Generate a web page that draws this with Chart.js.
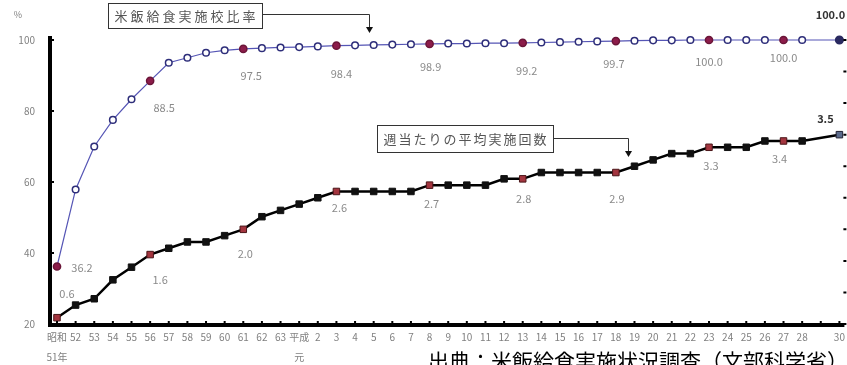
<!DOCTYPE html>
<html>
<head>
<meta charset="utf-8">
<script src="https://cdn.jsdelivr.net/npm/chart.js@4/dist/chart.umd.min.js"></script>
<style>
  html, body { margin: 0; padding: 0; background: #fff; }
  #wrap { width: 847px; height: 365px; position: relative; }
</style>
</head>
<body>
<div id="wrap"><canvas id="chart-rice"></canvas></div>
<script>
// 年度（昭和51年〜平成30年、平成29年はデータなし）
const yearLabels = [
    ['昭和', '51年'], '52', '53', '54', '55', '56', '57', '58', '59', '60', '61', '62', '63',
    ['平成', '元'], '2', '3', '4', '5', '6', '7', '8', '9', '10', '11', '12', '13', '14', '15',
    '16', '17', '18', '19', '20', '21', '22', '23', '24', '25', '26', '27', '28', '', '30'
];

// 米飯給食実施校比率 (%)
const riceRate = [
    36.2, 57.9, 70.0, 77.5, 83.3, 88.5, 93.6, 95.0, 96.4, 97.1, 97.5, 97.7, 97.9,
    98.0, 98.2, 98.4, 98.5, 98.6, 98.7, 98.8, 98.9, 99.0, 99.0, 99.1, 99.1, 99.2, 99.3, 99.4,
    99.5, 99.6, 99.7, 99.8, 99.9, 99.9, 100.0, 100.0, 100.0, 100.0, 100.0, 100.0, 100.0, null, 100.0
];

// 週当たりの平均実施回数 (回)
const weeklyTimes = [
    0.6, 0.8, 0.9, 1.2, 1.4, 1.6, 1.7, 1.8, 1.8, 1.9, 2.0, 2.2, 2.3,
    2.4, 2.5, 2.6, 2.6, 2.6, 2.6, 2.6, 2.7, 2.7, 2.7, 2.7, 2.8, 2.8, 2.9, 2.9,
    2.9, 2.9, 2.9, 3.0, 3.1, 3.2, 3.2, 3.3, 3.3, 3.3, 3.4, 3.4, 3.4, null, 3.5
];

// points that carry a value label
const markedYears = [0, 5, 10, 15, 20, 25, 30, 35, 39];
const lastYear = 42;

const FONT = "'Noto Sans CJK JP', 'Noto Sans', sans-serif";
const GREY = '#808080';

// label offsets from each marked point: [dataset, index, dx, dy, strong]
const labelSpots = [
    [0, 0, 25, 1], [0, 5, 14, 27], [0, 10, 8, 27], [0, 15, 5, 28], [0, 20, 1, 23],
    [0, 25, 4, 28], [0, 30, -2, 23], [0, 35, 0, 22], [0, 39, 0, 18], [0, 42, -9, -25, true],
    [1, 0, 10, -24], [1, 5, 10, 25], [1, 10, 2, 24], [1, 15, 3, 16], [1, 20, 2, 19],
    [1, 25, 1, 20], [1, 30, 1, 26], [1, 35, 2, 19], [1, 39, -4, 18], [1, 42, -14, -16, true]
];

function toPoints(values) {
    return values.map((v, i) => ({ x: i, y: v }));
}

function styleByIndex(normal, marked, last) {
    return yearLabels.map((_, i) => i === lastYear ? last : (markedYears.includes(i) ? marked : normal));
}

const valueLabels = {
    id: 'valueLabels',
    afterDatasetsDraw(chart) {
        const ctx = chart.ctx;
        ctx.save();
        ctx.textAlign = 'center';
        ctx.textBaseline = 'middle';
        labelSpots.forEach(([ds, i, dx, dy, strong]) => {
            const pt = chart.getDatasetMeta(ds).data[i];
            const val = chart.data.datasets[ds].data[i].y;
            ctx.font = (strong ? 'bold ' : '') + '11px ' + FONT;
            ctx.fillStyle = strong ? '#333' : '#8a8a8a';
            ctx.fillText(val.toFixed(1), pt.x + dx, pt.y + dy);
        });
        ctx.restore();
    }
};

// thick axis lines plus small tick marks on the inner side of the axes
const axisLines = {
    id: 'axisLines',
    afterDraw(chart) {
        const { ctx, chartArea, scales } = chart;
        const bottom = scales.y.getPixelForValue(20);
        ctx.save();
        ctx.fillStyle = '#000';
        ctx.fillRect(chartArea.left - 2, chartArea.top - 4, 4, bottom - chartArea.top + 6);
        ctx.fillRect(chartArea.left - 2, bottom - 1, chartArea.right - chartArea.left + 5, 4);

        ctx.strokeStyle = '#000';
        ctx.lineWidth = 2;
        ctx.beginPath();
        scales.x.ticks.forEach(t => {
            const px = scales.x.getPixelForValue(t.value);
            ctx.moveTo(px, bottom);
            ctx.lineTo(px, bottom - 3);
        });
        scales.y.ticks.forEach(t => {
            const py = scales.y.getPixelForValue(t.value);
            ctx.moveTo(chartArea.left + 1, py);
            ctx.lineTo(chartArea.left + 4, py);
        });
        scales.y2.ticks.forEach(t => {
            const py = scales.y2.getPixelForValue(t.value);
            ctx.moveTo(chartArea.right + 2, py);
            ctx.lineTo(chartArea.right + 5, py);
        });
        ctx.stroke();
        ctx.restore();
    }
};

function callout(ctx, text, box, path, spacing) {
    ctx.strokeStyle = '#333';
    ctx.lineWidth = 1;
    ctx.fillStyle = '#fff';
    ctx.fillRect(box.x, box.y, box.w, box.h);
    ctx.strokeRect(box.x + 0.5, box.y + 0.5, box.w, box.h);
    ctx.fillStyle = '#555';
    ctx.font = '13px ' + FONT;
    ctx.letterSpacing = spacing + 'px';
    ctx.textAlign = 'center';
    ctx.textBaseline = 'middle';
    ctx.fillText(text, box.x + box.w / 2 + spacing / 2, box.y + box.h / 2 + 1);
    ctx.letterSpacing = '0px';

    ctx.beginPath();
    ctx.moveTo(path[0][0], path[0][1]);
    path.slice(1).forEach(p => ctx.lineTo(p[0], p[1]));
    ctx.stroke();
    const tip = path[path.length - 1];
    ctx.fillStyle = '#111';
    ctx.beginPath();
    ctx.moveTo(tip[0] - 3.5, tip[1] - 1);
    ctx.lineTo(tip[0] + 3.5, tip[1] - 1);
    ctx.lineTo(tip[0], tip[1] + 5);
    ctx.closePath();
    ctx.fill();
}

const notes = {
    id: 'notes',
    afterDraw(chart) {
        const ctx = chart.ctx;
        ctx.save();
        callout(ctx, '米飯給食実施校比率', { x: 108, y: 3, w: 154, h: 25 },
            [[262, 14.5], [369.5, 14.5], [369.5, 28]], 3);
        callout(ctx, '週当たりの平均実施回数', { x: 377, y: 125, w: 176, h: 27 },
            [[553, 138.5], [628.5, 138.5], [628.5, 152]], 2);

        ctx.fillStyle = GREY;
        ctx.font = '9px ' + FONT;
        ctx.textAlign = 'center';
        ctx.textBaseline = 'middle';
        ctx.fillText('%', 18, 15);

        ctx.fillStyle = '#000';
        ctx.font = '21px ' + FONT;
        ctx.textAlign = 'left';
        ctx.textBaseline = 'alphabetic';
        ctx.fillText('出典：米飯給食実施状況調査（文部科学省）', 428, 369);
        ctx.restore();
    }
};

const ctx = document.getElementById('chart-rice');
new Chart(ctx.getContext('2d'), {
    type: 'line',
    data: {
        datasets: [{
            label: '米飯給食実施校比率',
            data: toPoints(riceRate),
            yAxisID: 'y',
            borderColor: '#5555b5',
            borderWidth: 1.2,
            pointRadius: styleByIndex(3.3, 3.6, 3.8),
            pointBorderWidth: 1.5,
            pointBackgroundColor: styleByIndex('#fff', '#8c1c4a', '#2a2a60'),
            pointBorderColor: styleByIndex('#2e2e7a', '#6a1538', '#2a2a60'),
            spanGaps: true,
            clip: false,
            tension: 0
        }, {
            label: '週当たりの平均実施回数',
            data: toPoints(weeklyTimes),
            yAxisID: 'y2',
            borderColor: '#000',
            borderWidth: 2.5,
            pointStyle: 'rect',
            pointRadius: 4.6,
            pointBorderWidth: 1,
            pointBackgroundColor: styleByIndex('#111', '#a3353f', '#5b6b8c'),
            pointBorderColor: styleByIndex('#111', '#4a1518', '#223'),
            spanGaps: true,
            clip: false,
            tension: 0
        }]
    },
    options: {
        responsive: true,
        maintainAspectRatio: false,
        animation: false,
        layout: { padding: { left: 0, right: 0, top: 40, bottom: 0 } },
        plugins: { legend: { display: false }, tooltip: { enabled: false } },
        scales: {
            x: {
                type: 'linear',
                min: -0.3755,
                max: 42.107,
                afterBuildTicks: scale => { scale.ticks = yearLabels.map((_, i) => ({ value: i })); },
                afterFit: scale => {
                    scale.height = 41;
                    scale.paddingLeft = 0;
                    scale.paddingRight = 0;
                },
                grid: { display: false, drawTicks: false },
                border: { display: false },
                ticks: {
                    autoSkip: false,
                    maxRotation: 0,
                    minRotation: 0,
                    padding: 3,
                    color: GREY,
                    font: { family: FONT, size: 10, lineHeight: 2 },
                    callback: value => yearLabels[value]
                }
            },
            y: {
                position: 'left',
                min: 20,
                max: 100,
                afterFit: scale => { scale.width = 50; },
                grid: { display: false, drawTicks: false },
                border: { display: false },
                ticks: { stepSize: 20, padding: 15, color: GREY, font: { family: FONT, size: 10 } }
            },
            y2: {
                position: 'right',
                min: 0.5,
                max: 5,
                afterFit: scale => { scale.width = 2; },
                grid: { display: false, drawTicks: false },
                border: { display: false },
                ticks: { stepSize: 0.5, display: false }
            }
        }
    },
    plugins: [valueLabels, axisLines, notes]
});
</script>
</body>
</html>
